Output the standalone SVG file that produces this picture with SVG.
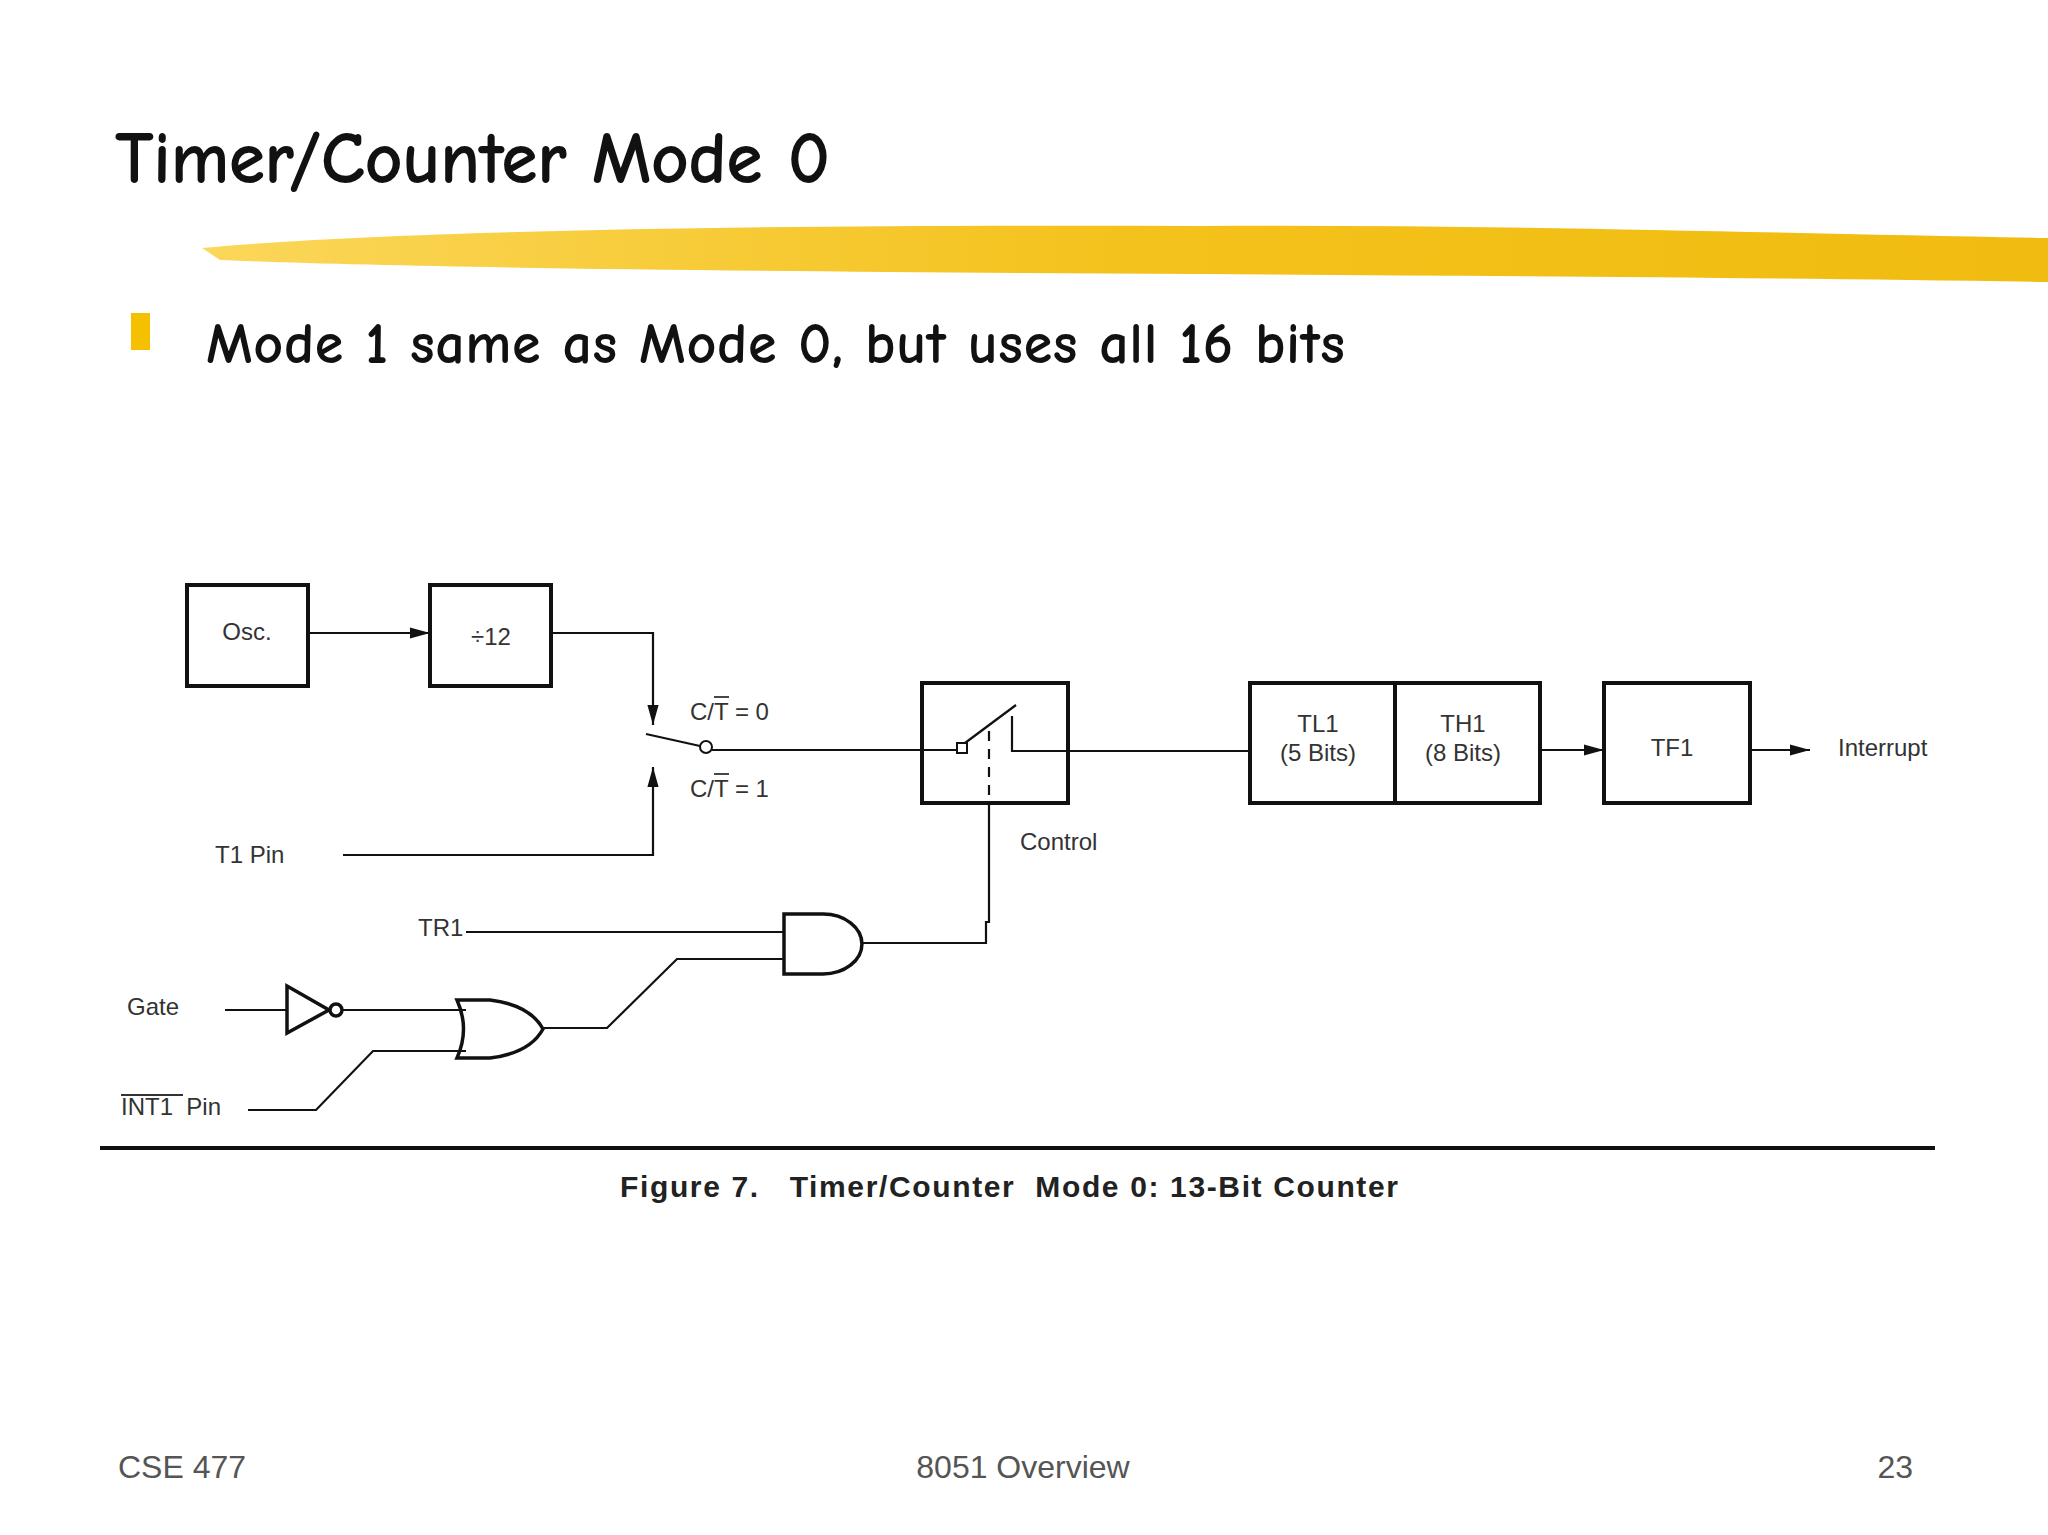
<svg xmlns="http://www.w3.org/2000/svg" width="2048" height="1535" viewBox="0 0 2048 1535">
<style>
.bx{fill:none;stroke:#111;stroke-width:4}
.w{fill:none;stroke:#111;stroke-width:2.2}
.g{fill:#fff;stroke:#111;stroke-width:3.5}
.t{font-family:"Liberation Sans",Arial,sans-serif;font-size:24px;fill:#333}
.f{font-family:"Liberation Sans",Arial,sans-serif;fill:#555;font-size:32px}
</style>
<defs>
<marker id="a" viewBox="0 0 10 10" refX="10" refY="5" markerWidth="20" markerHeight="14" markerUnits="userSpaceOnUse" orient="auto" preserveAspectRatio="none"><path d="M0,1 L10,5 L0,9 z" fill="#111"/></marker>
<linearGradient id="y" x1="0" x2="1"><stop offset="0" stop-color="#FBD75A"/><stop offset="0.5" stop-color="#F4C21C"/><stop offset="1" stop-color="#F0BC10"/></linearGradient>
</defs>
<rect width="2048" height="1535" fill="#fff"/>
<text x="115" y="183" font-family="'Comic Neue','DejaVu Sans',sans-serif" font-size="74" font-weight="bold" textLength="715" fill="#111">Timer/Counter Mode 0</text>
<path d="M202,248 C400,230 800,224 1200,226 C1500,224 1800,234 2048,238 L2048,282 C1800,278 1500,276 1200,274 C800,272 400,268 220,260 Z" fill="url(#y)"/>
<rect x="131" y="313" width="19" height="37" fill="#F5C000"/>
<text x="206" y="363" font-family="'Comic Neue','DejaVu Sans',sans-serif" font-size="58" font-weight="bold" textLength="1139" fill="#111">Mode 1 same as Mode 0, but uses all 16 bits</text>

<g id="osc"><rect class="bx" x="187" y="585" width="121" height="101"/><text class="t" x="247" y="640" text-anchor="middle">Osc.</text></g>
<g id="div12"><rect class="bx" x="430" y="585" width="121" height="101"/><text class="t" x="491" y="645" text-anchor="middle">÷12</text></g>
<g id="control"><rect class="bx" x="922" y="683" width="146" height="120"/>
<rect x="957" y="743" width="10" height="10" fill="#fff" stroke="#111" stroke-width="2"/>
<line class="w" x1="965" y1="743" x2="1016" y2="705"/>
<polyline class="w" points="1012,716 1012,751 1068,751"/>
<line class="w" x1="989" y1="731" x2="989" y2="803" stroke-dasharray="10,8"/>
</g>
<g id="tl1"><rect class="bx" x="1250" y="683" width="145" height="120"/><text class="t" x="1318" y="732" text-anchor="middle">TL1</text><text class="t" x="1318" y="761" text-anchor="middle">(5 Bits)</text></g>
<g id="th1"><rect class="bx" x="1395" y="683" width="145" height="120"/><text class="t" x="1463" y="732" text-anchor="middle">TH1</text><text class="t" x="1463" y="761" text-anchor="middle">(8 Bits)</text></g>
<g id="tf1"><rect class="bx" x="1604" y="683" width="146" height="120"/><text class="t" x="1672" y="756" text-anchor="middle">TF1</text></g>
<g id="and"><path class="g" d="M784,914 L823,914 A39,30 0 0 1 823,974 L784,974 Z"/></g>
<g id="or"><path class="g" d="M457,1000 L490,1000 Q530,1005 543,1029 Q530,1053 490,1058 L457,1058 Q470,1029 457,1000 Z"/></g>
<g id="inv"><path class="g" d="M287,986 L329,1010 L287,1033 Z"/><circle class="g" cx="336" cy="1010" r="6" stroke-width="2.2"/></g>

<g id="labels">
<text class="t" x="690" y="720">C/T = 0</text>
<text class="t" x="690" y="797">C/T = 1</text>
<line x1="714" y1="774" x2="729" y2="774" stroke="#333" stroke-width="1.8"/>
<line x1="714" y1="697" x2="729" y2="697" stroke="#333" stroke-width="1.8"/>
<text class="t" x="215" y="863">T1 Pin</text>
<text class="t" x="1020" y="850">Control</text>
<text class="t" x="1838" y="756">Interrupt</text>
<text class="t" x="418" y="936">TR1</text>
<text class="t" x="127" y="1015">Gate</text>
<text class="t" x="121" y="1115" xml:space="preserve">INT1  Pin</text>
<line x1="121" y1="1095" x2="183" y2="1095" stroke="#333" stroke-width="2"/>
</g>

<g id="connectors">
<line class="w" x1="308" y1="633" x2="430" y2="633" marker-end="url(#a)"/>
<polyline class="w" points="551,633 653,633 653,725" marker-end="url(#a)"/>
<line class="w" x1="646" y1="734" x2="700" y2="746"/>
<circle cx="706" cy="747" r="6" fill="#fff" stroke="#111" stroke-width="2"/>
<line class="w" x1="712" y1="750" x2="957" y2="750"/>
<polyline class="w" points="343,855 653,855 653,767" marker-end="url(#a)"/>
<line class="w" x1="1068" y1="751" x2="1250" y2="751"/>
<line class="w" x1="1540" y1="750" x2="1604" y2="750" marker-end="url(#a)"/>
<line class="w" x1="1750" y1="750" x2="1810" y2="750" marker-end="url(#a)"/>
<polyline class="w" points="989,803 989,922 986,922 986,943 862,943"/>
<line class="w" x1="466" y1="932" x2="784" y2="932"/>
<polyline class="w" points="543,1028 607,1028 677,959 784,959"/>
<line class="w" x1="225" y1="1010" x2="287" y2="1010"/>
<line class="w" x1="342" y1="1010" x2="466" y2="1010"/>
<polyline class="w" points="248,1110 316,1110 373,1051 466,1051"/>
</g>

<line x1="100" y1="1148" x2="1935" y2="1148" stroke="#111" stroke-width="4"/>
<text x="620" y="1197" font-family="'Liberation Sans',Arial,sans-serif" font-weight="bold" font-size="30" fill="#222" textLength="778" xml:space="preserve">Figure 7.   Timer/Counter  Mode 0: 13-Bit Counter</text>

<text class="f" x="118" y="1478">CSE 477</text>
<text class="f" x="1023" y="1478" text-anchor="middle">8051 Overview</text>
<text class="f" x="1913" y="1478" text-anchor="end">23</text>
</svg>
